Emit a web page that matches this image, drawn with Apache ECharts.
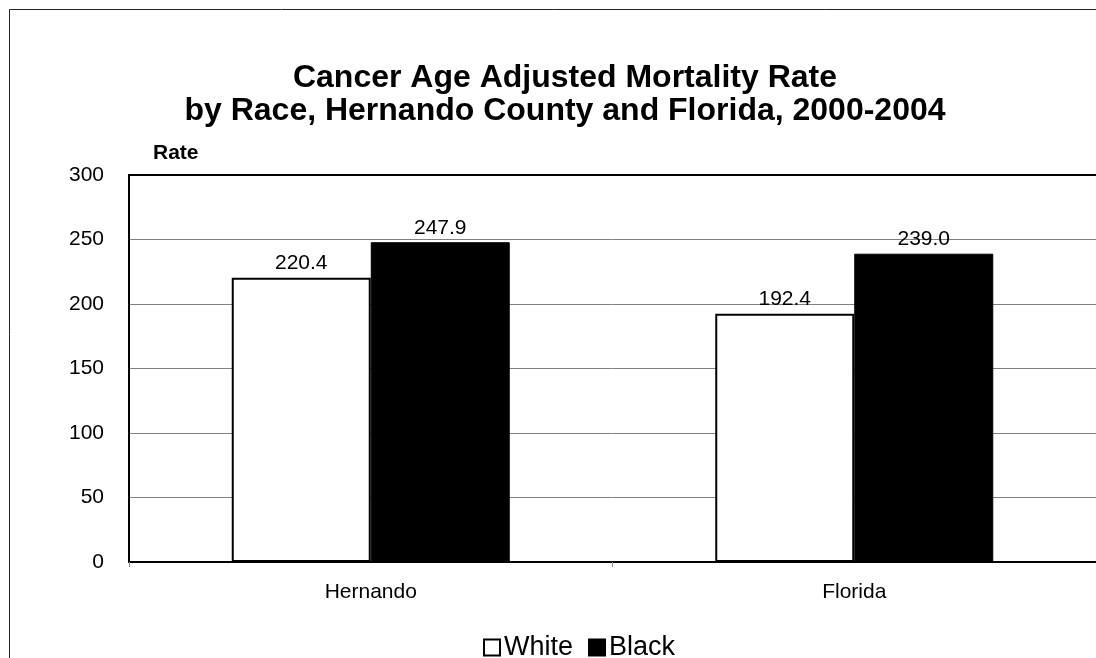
<!DOCTYPE html>
<html>
<head>
<meta charset="utf-8">
<script src="https://cdn.jsdelivr.net/npm/echarts@6/dist/echarts.min.js"></script>
<style>html,body{margin:0;padding:0;background:#fff}#c{width:1096px;height:658px}</style>
</head>
<body>
<div id="c"></div>
<script>
const categories = ['Hernando', 'Florida'];
const whiteValues = [220.4, 192.4];
const blackValues = [247.9, 239.0];
const seriesNames = ['White', 'Black'];
const yTicks = [0, 50, 100, 150, 200, 250, 300];

const chart = echarts.init(document.getElementById('c'), null, {renderer: 'canvas'});
const F = 'Liberation Sans, Arial, sans-serif';
const labelCfg = {show: true, position: 'top', distance: 4, color: '#000', fontFamily: F, fontSize: 21,
  formatter: p => p.value.toFixed(1)};
chart.setOption({
  animation: false,
  backgroundColor: '#fff',
  title: {
    text: 'Cancer Age Adjusted Mortality Rate\nby Race, Hernando County and Florida, 2000-2004',
    left: 560, top: 57, textAlign: 'center',
    textStyle: {fontFamily: F, fontSize: 32, fontWeight: 'bold', color: '#000', lineHeight: 33}
  },
  graphic: [{type: 'rect', shape: {x: 9.5, y: 9.5, width: 1200, height: 800}, style: {fill: 'none', stroke: '#222', lineWidth: 1}, z: -1}],
  legend: {
    top: 629, left: 478, itemWidth: 16, itemHeight: 16, itemGap: 15,
    textStyle: {fontFamily: F, fontSize: 27, color: '#000', padding: [0, 0, 0, -1]},
    data: [{name: 'White', icon: 'rect'}, {name: 'Black', icon: 'rect'}]
  },
  grid: {left: 129, top: 175, right: -6, height: 387, show: false},
  xAxis: [{
    type: 'category', data: categories,
    axisLine: {lineStyle: {color: '#000', width: 2}},
    axisTick: {show: true, length: 5, lineStyle: {color: '#888'}},
    axisLabel: {fontFamily: F, fontSize: 21, color: '#000', margin: 20}
  }, {
    type: 'category', data: categories, position: 'top',
    axisLine: {lineStyle: {color: '#000', width: 2}},
    axisTick: {show: false}, axisLabel: {show: false}
  }],
  yAxis: {
    type: 'value', min: yTicks[0], max: yTicks[yTicks.length - 1], interval: 50,
    name: 'Rate', nameLocation: 'end', nameGap: 11,
    nameTextStyle: {fontFamily: F, fontSize: 21, fontWeight: 'bold', color: '#000', align: 'left', padding: [0, 0, 0, 24]},
    axisLine: {show: true, lineStyle: {color: '#000', width: 2}}, axisTick: {show: false},
    splitLine: {lineStyle: {color: '#808080', width: 1}},
    axisLabel: {fontFamily: F, fontSize: 21, color: '#000', margin: 25}
  },
  series: [
    {name: seriesNames[0], type: 'bar', data: whiteValues, barWidth: 139, barGap: '0%',
     itemStyle: {color: '#fff', borderColor: '#000', borderWidth: 2}, label: labelCfg},
    {name: seriesNames[1], type: 'bar', data: blackValues, barWidth: 139, barGap: '0%',
     itemStyle: {color: '#000', borderColor: '#000', borderWidth: 1}, label: labelCfg}
  ]
});
</script>
</body>
</html>
